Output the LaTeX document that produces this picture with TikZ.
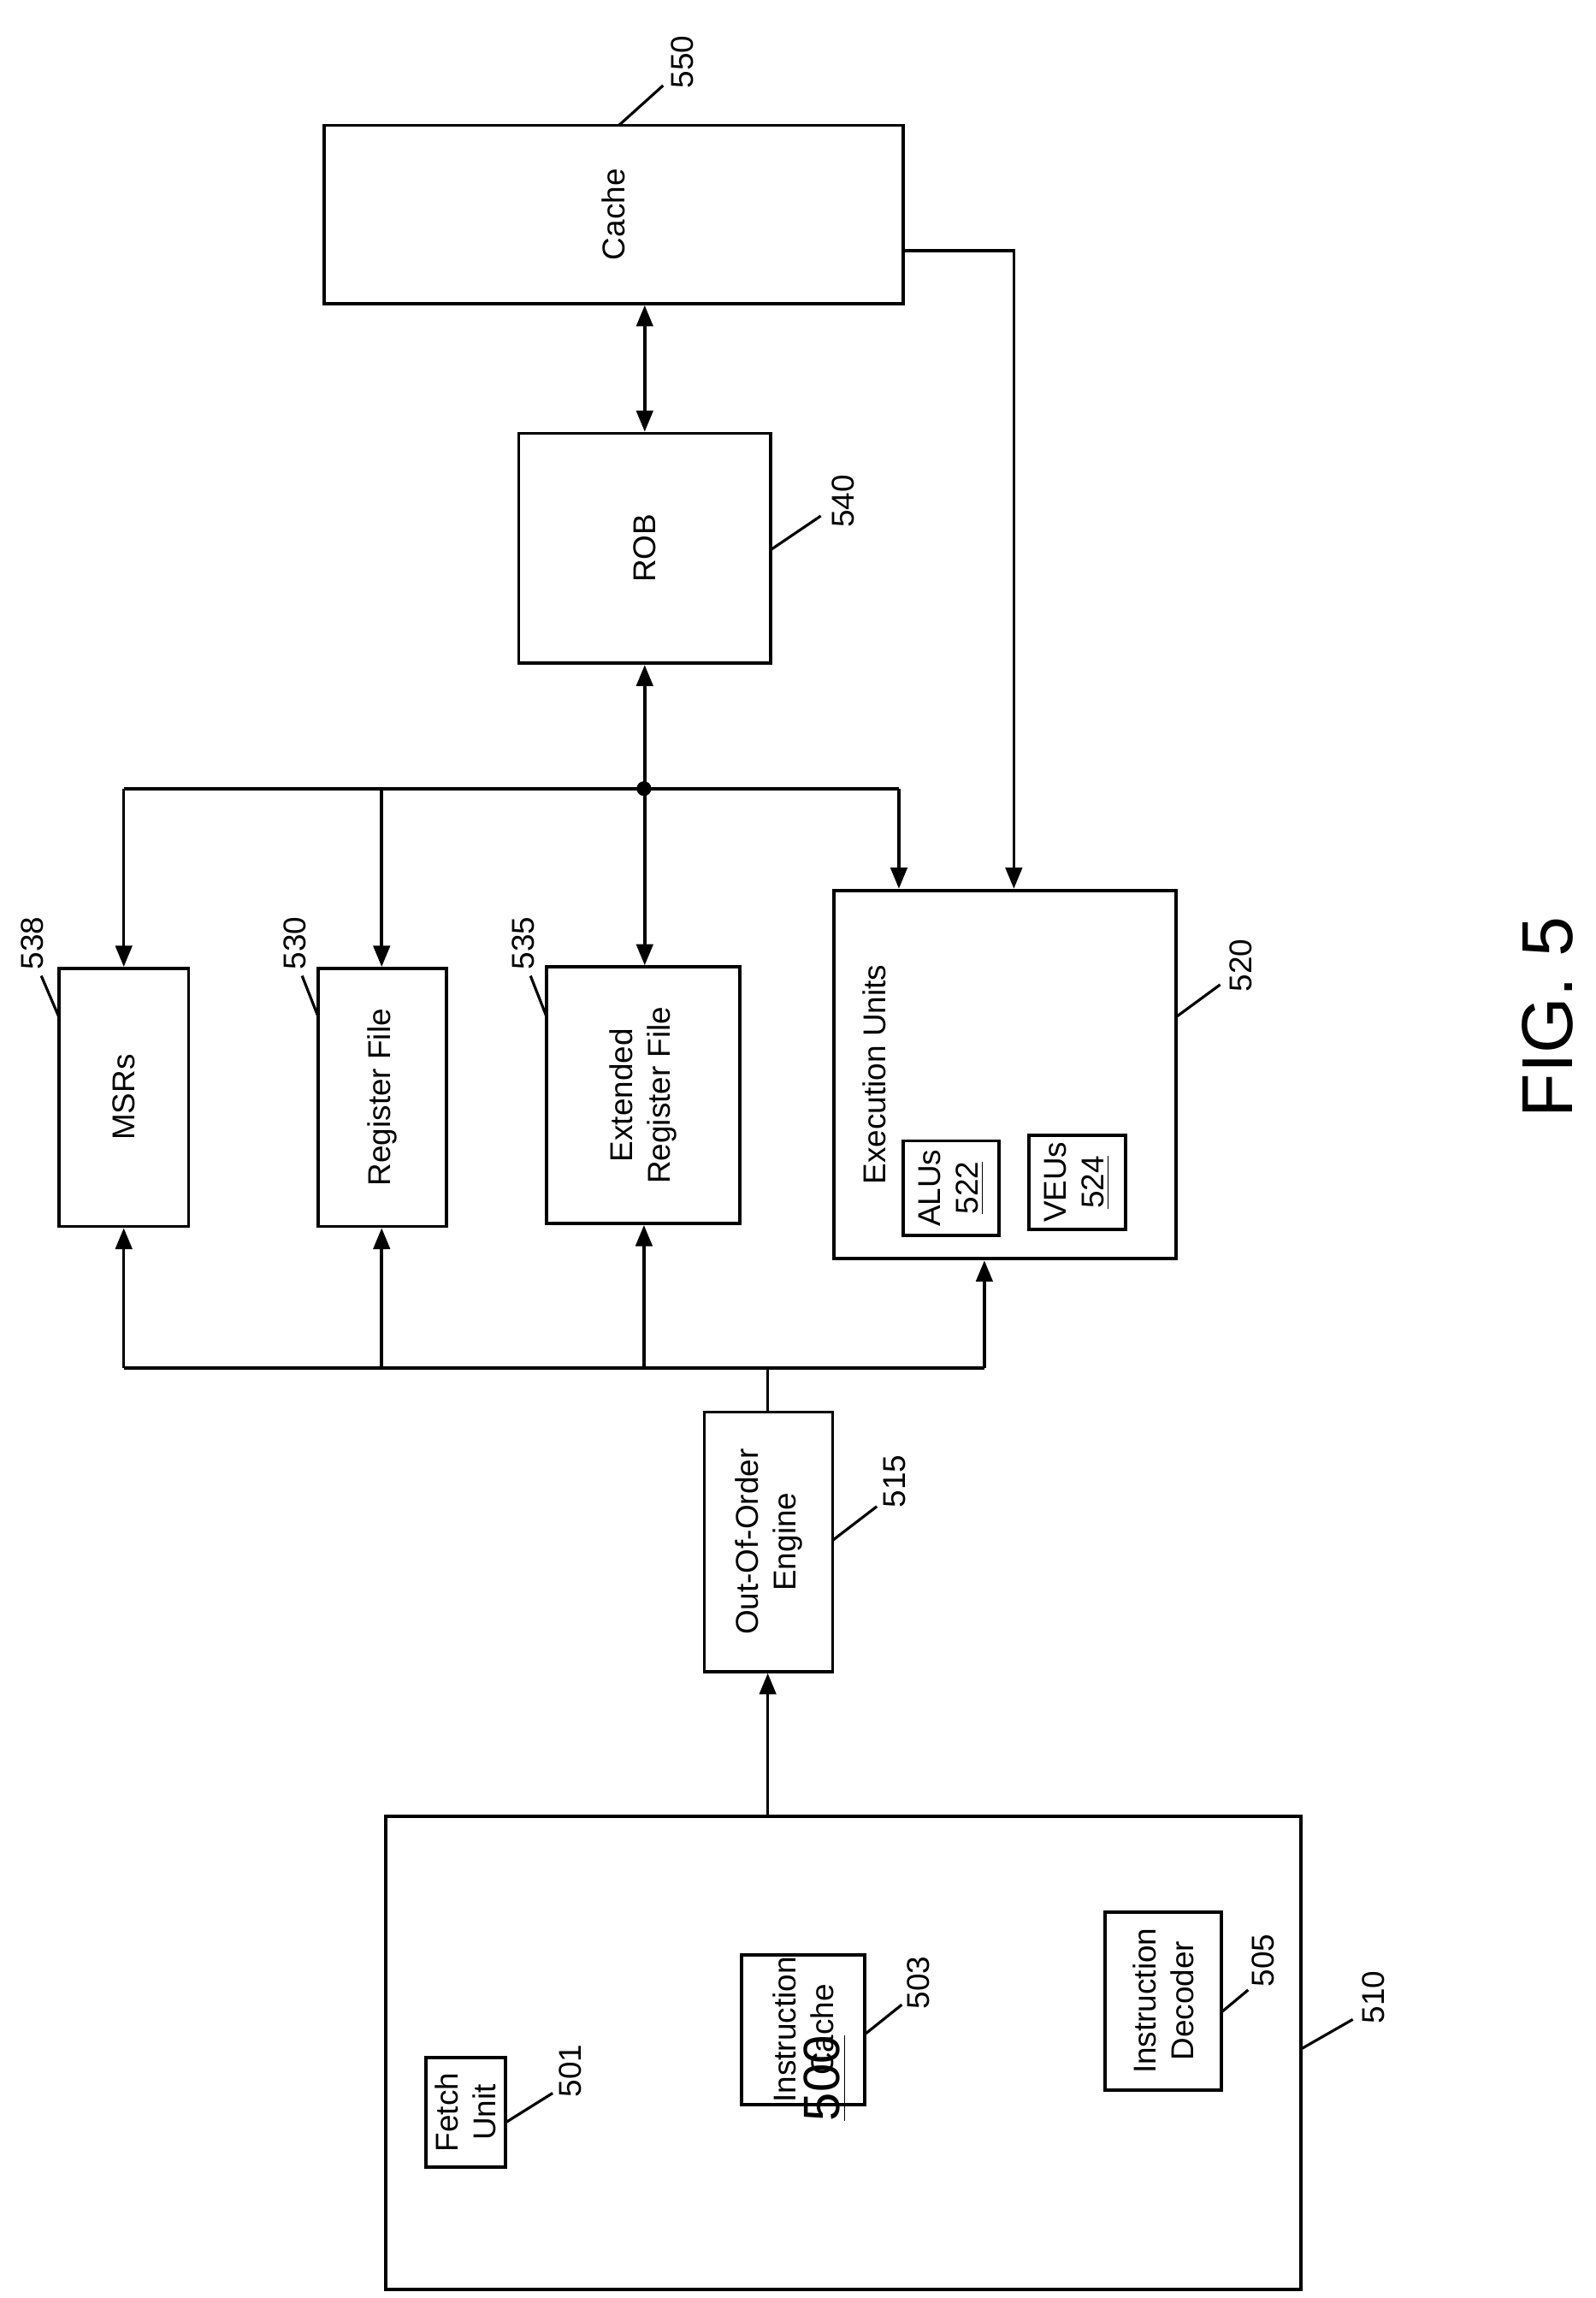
\documentclass[tikz,border=0pt]{standalone}
\usepackage{fontspec}
\setmainfont{Liberation Sans}
\usetikzlibrary{fit,arrows.meta}
\begin{document}
\begin{tikzpicture}[x=0.01723cm,y=-0.01723cm,
  box/.style={draw,line width=1.1pt,inner sep=0pt},
  txt/.style={rotate=90,align=center,font=\fontsize{10.5}{12.5}\selectfont},
  num/.style={rotate=90,font=\fontsize{10.5}{12}\selectfont},
  ld/.style={line width=0.9pt},
  ar/.style={line width=1pt,-{Triangle[length=7pt,width=5.5pt]}},
  dar/.style={line width=1pt,{Triangle[length=7pt,width=5.5pt]}-{Triangle[length=7pt,width=5.5pt]}}]
\useasboundingbox (0,0) rectangle (1083,1559);
\newcommand{\bx}[6]{\coordinate (#1a) at (#2,#3); \coordinate (#1b) at (#4,#5);
  \node[box,fit=(#1a)(#1b)] (#1) {}; \node[txt] (#1t) at (#1) {#6};}
\bx{cache}{220}{85}{613}{206}{Cache}
\bx{rob}{352}{294}{523}{450}{ROB}
\bx{msr}{40}{657}{128}{832}{MSRs}
\bx{rf}{216}{657}{303}{832}{Register File}
\bx{erf}{371}{656}{502}{830}{Extended\\Register File}
\coordinate (exa) at (566,604); \coordinate (exb) at (798,854);
\node[box,fit=(exa)(exb)] (ex) {};
\node[txt,anchor=north] (ext) at (578,729) {Execution Units};
\bx{alu}{613}{774}{678}{838}{ALUs\\\underline{522}}
\bx{veu}{698}{770}{764}{834}{VEUs\\\underline{524}}
\bx{ooo}{478}{958}{565}{1134}{Out-Of-Order\\Engine}
\coordinate (fa) at (262,1232); \coordinate (fb) at (883,1553);
\node[box,fit=(fa)(fb)] (fe) {};
\bx{fu}{289}{1396}{343}{1470}{Fetch\\Unit}
\bx{ic}{503}{1326}{587}{1428}{Instruction\\Cache}
\bx{id}{750}{1297}{829}{1418}{Instruction\\Decoder}
\node[rotate=90,font=\fontsize{17}{20}\selectfont] (lbl500) at (560,1410) {\underline{500}};
\node[rotate=90,font=\fontsize{24}{28}\selectfont] (fig) at (1050,690) {FIG. 5};
% connectors
\draw[dar] (cache.south -| rob.north) -- (rob.north);
\coordinate (j) at (437,535);
\draw[dar] (rob.south) -- (erf.north -| rob.south);
\fill (j) circle (5);
\draw[line width=1pt] (84,535) -- (610,535);
\draw[ar] (84,535) -- (msr.north -| 84,0);
\draw[ar] (259,535) -- (rf.north -| 259,0);
\draw[ar] (610,535) -- (ex.north -| 610,0);
\coordinate (cr) at (613,170);
\draw[ar] (cr) -- (688,170) -- (ex.north -| 688,0);
\coordinate (b) at (521,928);
\draw[line width=1pt] (ooo.north -| b) -- (b);
\draw[line width=1pt] (84,928) -- (668,928);
\draw[ar] (84,928) -- (msr.south -| 84,0);
\draw[ar] (259,928) -- (rf.south -| 259,0);
\draw[ar] (437,928) -- (erf.south -| 437,0);
\draw[ar] (668,928) -- (ex.south -| 668,0);
\draw[ar] (fe.north -| 521,0) -- (ooo.south -| 521,0);
% reference labels
\node[num] (n550) at (463,42) {550}; \draw[ld] (420,85) -- (450,58);
\node[num] (n540) at (572,340) {540}; \draw[ld] (523,373) -- (557,350);
\node[num] (n538) at (22,640) {538}; \draw[ld] (40,690) -- (28,662);
\node[num] (n530) at (200,640) {530}; \draw[ld] (216,690) -- (205,662);
\node[num] (n535) at (355,640) {535}; \draw[ld] (371,690) -- (360,662);
\node[num] (n520) at (842,655) {520}; \draw[ld] (798,690) -- (828,668);
\node[num] (n515) at (607,1005) {515}; \draw[ld] (565,1045) -- (595,1022);
\node[num] (n501) at (387,1405) {501}; \draw[ld] (343,1440) -- (375,1420);
\node[num] (n503) at (623,1345) {503}; \draw[ld] (587,1380) -- (612,1360);
\node[num] (n505) at (857,1330) {505}; \draw[ld] (829,1365) -- (847,1350);
\node[num] (n510) at (932,1355) {510}; \draw[ld] (883,1390) -- (918,1370);
\end{tikzpicture}
\end{document}
